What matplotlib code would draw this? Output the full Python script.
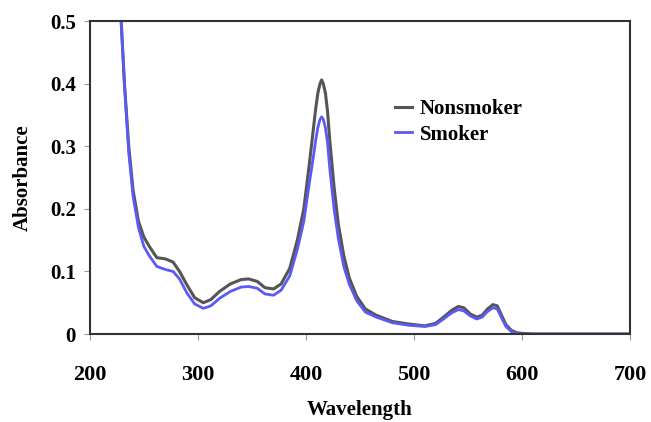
import matplotlib
matplotlib.use("Agg")
import matplotlib.pyplot as plt

wavelength = [229, 232, 236, 240, 245, 250, 255, 262, 270, 277, 283, 290, 297, 305, 312,
              320, 330, 340, 347, 355, 362, 370, 377, 385, 392, 398, 403, 407, 409, 411,
              413, 414.5, 416, 418, 420, 422, 426, 430, 435, 440, 447, 455, 465, 480, 495,
              510, 520, 528, 535, 541, 546, 552, 558, 563, 568, 573, 577, 581, 585, 590,
              595, 600, 610, 620, 700]
nonsmoker = [0.5, 0.4, 0.3, 0.23, 0.18, 0.155, 0.14, 0.122, 0.12, 0.115, 0.1, 0.078, 0.058,
             0.05, 0.055, 0.068, 0.08, 0.087, 0.088, 0.084, 0.074, 0.072, 0.08, 0.105, 0.15,
             0.2, 0.27, 0.33, 0.36, 0.385, 0.4, 0.406, 0.4, 0.385, 0.355, 0.31, 0.235, 0.175,
             0.125, 0.09, 0.06, 0.04, 0.03, 0.02, 0.016, 0.013, 0.017, 0.028, 0.038, 0.044,
             0.042, 0.032, 0.027, 0.03, 0.04, 0.047, 0.045, 0.03, 0.015, 0.006, 0.002, 0.001,
             0, 0, 0]
smoker = [0.5, 0.4, 0.29, 0.22, 0.17, 0.14, 0.125, 0.108, 0.103, 0.1, 0.088, 0.065, 0.048,
          0.041, 0.045, 0.057, 0.068, 0.075, 0.076, 0.073, 0.064, 0.062, 0.07, 0.093, 0.135,
          0.18, 0.24, 0.285, 0.31, 0.33, 0.343, 0.347, 0.343, 0.33, 0.305, 0.265, 0.2, 0.152,
          0.108, 0.08, 0.053, 0.035, 0.027, 0.018, 0.014, 0.012, 0.015, 0.025, 0.034, 0.039,
          0.037, 0.029, 0.024, 0.027, 0.036, 0.042, 0.04, 0.026, 0.012, 0.004, 0.001, 0,
          0, 0, 0]

x_ticks = [200, 300, 400, 500, 600, 700]
y_ticks = [0, 0.1, 0.2, 0.3, 0.4, 0.5]
y_tick_labels = ["0", "0.1", "0.2", "0.3", "0.4", "0.5"]

plt.rcParams['font.family'] = ['Liberation Serif', 'DejaVu Serif']
plt.rcParams['font.weight'] = 'bold'

fig = plt.figure(figsize=(6.51, 4.22), dpi=100)
ax = fig.add_axes([0.138, 0.2085, 0.83, 0.7415])

ax.plot(wavelength, nonsmoker, color='#555555', lw=2.2, label='Nonsmoker')
ax.plot(wavelength, smoker, color='#5a5af5', lw=2.0, label='Smoker')

ax.set_xlim(200, 700)
ax.set_ylim(0, 0.5)
ax.set_xticks(x_ticks)
ax.set_yticks(y_ticks)
ax.set_yticklabels(y_tick_labels)
ax.tick_params(direction='out', length=4, color='#999999', labelsize=15, pad=6)
ax.tick_params(axis='x', pad=18, labelsize=16)
for s in ax.spines.values():
    s.set_color('#333333')
    s.set_linewidth(1.5)

ax.set_xlabel('Wavelength', fontsize=15, fontweight='bold', labelpad=11)
ax.set_ylabel('Absorbance', fontsize=15, fontweight='bold', labelpad=12)

leg = ax.legend(loc='upper left', bbox_to_anchor=(0.53, 0.81), frameon=False,
                fontsize=15, handlelength=0.8, handletextpad=0.4, labelspacing=0.25)

fig.savefig('out.png', dpi=100)
